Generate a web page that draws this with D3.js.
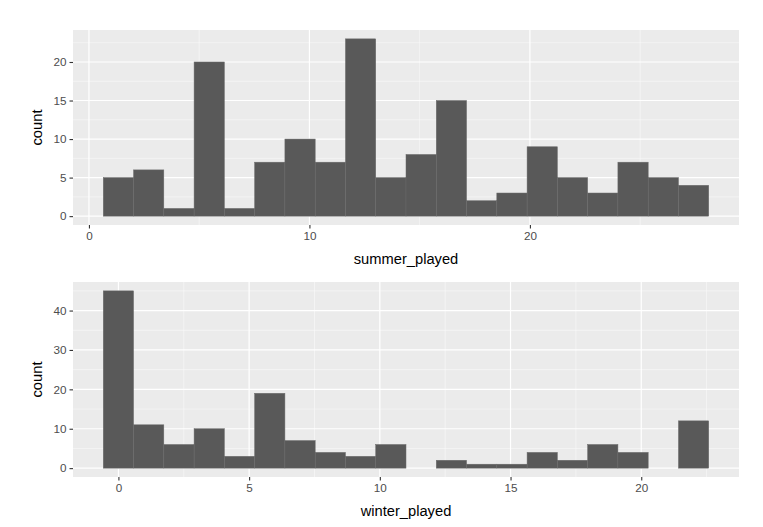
<!DOCTYPE html>
<html><head><meta charset="utf-8">
<script src="https://cdn.jsdelivr.net/npm/d3@7"></script>
<style>body{margin:0;background:#fff}text{font-family:"Liberation Sans",Arial,sans-serif}</style>
</head><body><svg id="c" width="763" height="527"></svg>
<script>
// histogram counts
var summerCounts = [5,6,1,20,1,7,10,7,23,5,8,15,2,3,9,5,3,7,5,4]
var summerStart = 0.65, summerWidth = 1.373
var summerTicks = [0,10,20]
var summerYTicks = [0,5,10,15,20]

var winterCounts = [45,11,6,10,3,19,7,4,3,6,0,2,1,1,4,2,6,4,0,12]
var winterStart = -0.579, winterWidth = 1.158
var winterTicks = [0,5,10,15,20]
var winterYTicks = [0,10,20,30,40]

const svg = d3.select("#c")

function panel(counts, start, w, xt, yt, top, bottom, label) {
    const left = 73, right = 739
    const x0 = start, x1 = start + counts.length * w
    const ymax = d3.max(counts)
    const x = d3.scaleLinear().domain([x0 - (x1 - x0) * 0.05, x1 + (x1 - x0) * 0.05]).range([left, right])
    const y = d3.scaleLinear().domain([-ymax * 0.05, ymax * 1.05]).range([bottom, top])
    const g = svg.append("g")
    g.append("rect").attr("x", left).attr("y", top).attr("width", right - left).attr("height", bottom - top).attr("fill", "#ebebeb")
    // minor grid
    const xstep = xt[1] - xt[0], ystep = yt[1] - yt[0]
    const xminor = [], yminor = []
    for (let v = xt[0] - xstep / 2; v <= x.domain()[1]; v += xstep) if (v >= x.domain()[0]) xminor.push(v)
    for (let v = yt[0] - ystep / 2; v <= y.domain()[1]; v += ystep) if (v >= y.domain()[0]) yminor.push(v)
    g.selectAll(".xm").data(xminor).enter().append("line").attr("x1", d => x(d)).attr("x2", d => x(d)).attr("y1", top).attr("y2", bottom).attr("stroke", "#fafafa").attr("stroke-width", 0.6)
    g.selectAll(".ym").data(yminor).enter().append("line").attr("y1", d => y(d)).attr("y2", d => y(d)).attr("x1", left).attr("x2", right).attr("stroke", "#fafafa").attr("stroke-width", 0.6)
    g.selectAll(".xM").data(xt).enter().append("line").attr("x1", d => x(d)).attr("x2", d => x(d)).attr("y1", top).attr("y2", bottom).attr("stroke", "#fff").attr("stroke-width", 1.2)
    g.selectAll(".yM").data(yt).enter().append("line").attr("y1", d => y(d)).attr("y2", d => y(d)).attr("x1", left).attr("x2", right).attr("stroke", "#fff").attr("stroke-width", 1.2)
    // bars
    g.selectAll(".bar").data(counts).enter().append("rect")
        .attr("x", (d, i) => x(start + i * w)).attr("width", x(start + w) - x(start))
        .attr("y", d => y(d)).attr("height", d => y(0) - y(d))
        .attr("fill", "#595959").attr("stroke", d => d > 0 ? "#6a6a6a" : "none").attr("stroke-width", 0.5)
    // axes
    const ax = g.append("g").attr("transform", "translate(0," + bottom + ")")
        .call(d3.axisBottom(x).tickValues(xt).tickSize(3.5).tickPadding(3))
    const ay = g.append("g").attr("transform", "translate(" + left + ",0)")
        .call(d3.axisLeft(y).tickValues(yt).tickSize(3.5).tickPadding(3))
    for (const a of [ax, ay]) {
        a.select(".domain").remove()
        a.selectAll("line").attr("stroke", "#333").attr("stroke-width", 1.1)
        a.selectAll("text").attr("fill", "#4d4d4d").style("font-size", "11.7px")
    }
    g.append("text").attr("x", (left + right) / 2).attr("y", bottom + 39).attr("text-anchor", "middle").style("font-size", "14.7px").text(label)
    g.append("text").attr("transform", "translate(" + 42 + "," + (top + bottom) / 2 + ") rotate(-90)").attr("text-anchor", "middle").style("font-size", "14.7px").text("count")
}

panel(summerCounts, summerStart, summerWidth, summerTicks, summerYTicks, 30, 225, "summer_played")
panel(winterCounts, winterStart, winterWidth, winterTicks, winterYTicks, 282, 477, "winter_played")
</script></body></html>
